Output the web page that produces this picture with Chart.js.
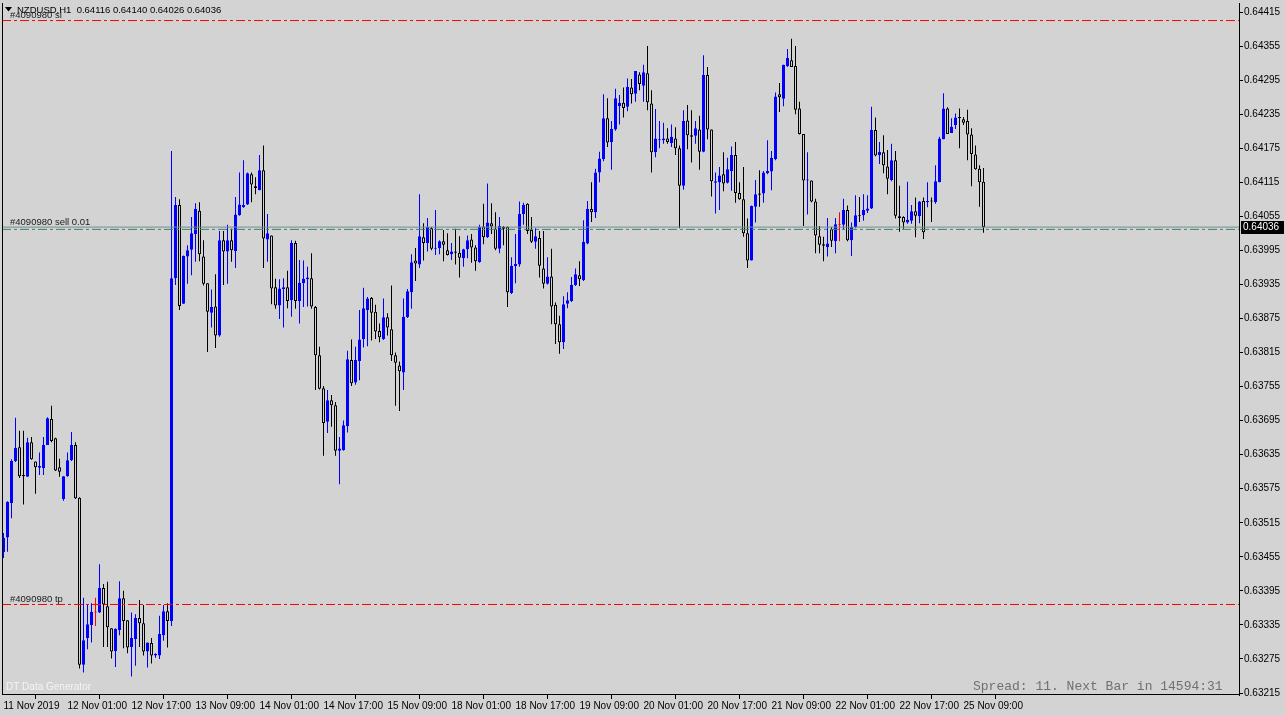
<!DOCTYPE html>
<html>
<head>
<meta charset="utf-8">
<title>NZDUSD,H1</title>
<script src="https://cdn.jsdelivr.net/npm/chart.js@4.4.1/dist/chart.umd.min.js"></script>
<style>
  html, body { margin: 0; padding: 0; background: #d3d3d3; overflow: hidden; }
  #chart { display: block; }
</style>
</head>
<body>
<canvas id="chart" width="1285" height="716"></canvas>
<script>
// NZDUSD H1 candles (one bar per hour)
const symbol = 'NZDUSD,H1';

const opens = [
  0.63463,0.63489,0.63550,0.63624,0.63648,0.63599,0.63596,0.63657,0.63623,0.63612,
  0.63611,0.63652,0.63698,0.63664,0.63613,0.63557,0.63597,0.63625,0.63652,0.63559,
  0.63265,0.63312,0.63335,0.63357,0.63357,0.63400,0.63368,0.63329,0.63289,0.63326,
  0.63382,0.63343,0.63296,0.63310,0.63347,0.63338,0.63288,0.63303,0.63281,0.63281,
  0.63317,0.63359,0.63342,0.63946,0.64075,0.63901,0.63984,0.63996,0.64024,0.64065,
  0.63984,0.63937,0.63885,0.63896,0.63845,0.64013,0.63993,0.64013,0.63994,0.64057,
  0.64071,0.64076,0.64129,0.64108,0.64101,0.64136,0.64014,0.64021,0.63930,0.63898,
  0.63927,0.63930,0.63907,0.64008,0.63906,0.63937,0.63944,0.63946,0.63895,0.63810,
  0.63752,0.63693,0.63731,0.63722,0.63642,0.63643,0.63685,0.63802,0.63762,0.63800,
  0.63839,0.63890,0.63911,0.63887,0.63853,0.63839,0.63877,0.63856,0.63810,0.63792,
  0.63780,0.63877,0.63921,0.63977,0.63970,0.64018,0.64008,0.64034,0.63998,0.63999,
  0.64011,0.63995,0.63988,0.63993,0.63991,0.63981,0.63997,0.64014,0.64000,0.63974,
  0.64037,0.64018,0.64043,0.64033,0.63998,0.64036,0.64036,0.63920,0.63967,0.63970,
  0.64059,0.64077,0.64031,0.64010,0.64017,0.63963,0.63936,0.63949,0.63899,0.63865,
  0.63833,0.63901,0.63906,0.63934,0.63951,0.63943,0.64007,0.64068,0.64062,0.64132,
  0.64156,0.64228,0.64186,0.64208,0.64249,0.64255,0.64248,0.64282,0.64271,0.64305,
  0.64285,0.64307,0.64254,0.64168,0.64189,0.64189,0.64192,0.64184,0.64192,0.64175,
  0.64109,0.64224,0.64198,0.64197,0.64208,0.64169,0.64304,0.64208,0.64114,0.64115,
  0.64129,0.64114,0.64135,0.64163,0.64096,0.64085,0.64025,0.63977,0.64072,0.64095,
  0.64095,0.64131,0.64134,0.64156,0.64270,0.64262,0.64320,0.64330,0.64320,0.64245,
  0.64200,0.64118,0.64118,0.64081,0.64020,0.64006,0.64001,0.64032,0.64011,0.64040,
  0.64040,0.64066,0.64013,0.64036,0.64057,0.64057,0.64065,0.64069,0.64207,0.64163,
  0.64168,0.64143,0.64119,0.64154,0.64055,0.64054,0.64044,0.64047,0.64064,0.64055,
  0.64082,0.64080,0.64083,0.64080,0.64115,0.64191,0.64245,0.64202,0.64216,0.64230,
  0.64226,0.64223,0.64199,0.64164,0.64139,0.64116
];
const highs = [
  0.63497,0.63553,0.63627,0.63700,0.63677,0.63677,0.63665,0.63666,0.63623,0.63639,
  0.63666,0.63701,0.63721,0.63665,0.63628,0.63597,0.63639,0.63675,0.63657,0.63560,
  0.63383,0.63370,0.63373,0.63383,0.63442,0.63407,0.63411,0.63329,0.63329,0.63412,
  0.63395,0.63343,0.63357,0.63354,0.63379,0.63370,0.63304,0.63312,0.63285,0.63351,
  0.63370,0.63373,0.64170,0.64089,0.64085,0.63986,0.64004,0.64054,0.64078,0.64080,
  0.64013,0.63937,0.63926,0.63953,0.64029,0.64029,0.64040,0.64033,0.64089,0.64132,
  0.64154,0.64132,0.64132,0.64124,0.64163,0.64180,0.64059,0.64021,0.63945,0.63944,
  0.63946,0.63959,0.64013,0.64012,0.63978,0.63977,0.63966,0.63990,0.63897,0.63825,
  0.63756,0.63749,0.63740,0.63728,0.63666,0.63695,0.63818,0.63838,0.63825,0.63890,
  0.63929,0.63913,0.63913,0.63899,0.63866,0.63910,0.63884,0.63933,0.63815,0.63799,
  0.63910,0.63927,0.63988,0.63999,0.64094,0.64043,0.64052,0.64036,0.64066,0.64013,
  0.64031,0.64025,0.64008,0.64033,0.64020,0.63998,0.64021,0.64024,0.64004,0.64040,
  0.64077,0.64113,0.64078,0.64062,0.64054,0.64038,0.64037,0.63983,0.64024,0.64081,
  0.64079,0.64078,0.64054,0.64034,0.64029,0.64029,0.63983,0.63998,0.63903,0.63880,
  0.63914,0.63921,0.63948,0.63963,0.63976,0.64048,0.64082,0.64115,0.64139,0.64169,
  0.64270,0.64263,0.64223,0.64280,0.64269,0.64282,0.64298,0.64297,0.64311,0.64309,
  0.64322,0.64355,0.64277,0.64244,0.64223,0.64220,0.64210,0.64217,0.64212,0.64180,
  0.64242,0.64251,0.64242,0.64223,0.64232,0.64339,0.64318,0.64208,0.64132,0.64142,
  0.64168,0.64158,0.64178,0.64186,0.64115,0.64142,0.64051,0.64074,0.64119,0.64136,
  0.64135,0.64189,0.64170,0.64273,0.64290,0.64322,0.64350,0.64368,0.64355,0.64257,
  0.64200,0.64168,0.64118,0.64086,0.64038,0.64019,0.64052,0.64036,0.64052,0.64062,
  0.64086,0.64074,0.64044,0.64092,0.64089,0.64094,0.64092,0.64248,0.64229,0.64186,
  0.64198,0.64172,0.64183,0.64170,0.64109,0.64055,0.64116,0.64075,0.64088,0.64082,
  0.64088,0.64115,0.64088,0.64145,0.64195,0.64272,0.64247,0.64228,0.64236,0.64245,
  0.64230,0.64243,0.64210,0.64180,0.64145,0.64140
];
const lows = [
  0.63453,0.63464,0.63523,0.63622,0.63594,0.63547,0.63596,0.63626,0.63566,0.63599,
  0.63599,0.63652,0.63657,0.63606,0.63596,0.63554,0.63596,0.63624,0.63557,0.63258,
  0.63251,0.63292,0.63304,0.63333,0.63356,0.63296,0.63296,0.63276,0.63261,0.63317,
  0.63294,0.63285,0.63244,0.63263,0.63296,0.63281,0.63260,0.63267,0.63277,0.63275,
  0.63307,0.63295,0.63333,0.63934,0.63890,0.63901,0.63936,0.63951,0.63975,0.63976,
  0.63933,0.63816,0.63859,0.63823,0.63843,0.63934,0.63936,0.63975,0.63964,0.64056,
  0.64070,0.64075,0.64080,0.64094,0.64101,0.63964,0.63975,0.63900,0.63892,0.63874,
  0.63859,0.63893,0.63878,0.63892,0.63866,0.63895,0.63896,0.63892,0.63749,0.63750,
  0.63633,0.63673,0.63684,0.63633,0.63583,0.63642,0.63674,0.63756,0.63758,0.63766,
  0.63824,0.63826,0.63836,0.63839,0.63833,0.63837,0.63845,0.63800,0.63721,0.63712,
  0.63749,0.63876,0.63892,0.63941,0.63964,0.63977,0.63993,0.63995,0.63987,0.63988,
  0.63976,0.63986,0.63978,0.63970,0.63947,0.63966,0.63981,0.63973,0.63959,0.63973,
  0.64006,0.64017,0.64024,0.63995,0.63990,0.64004,0.63895,0.63918,0.63937,0.63966,
  0.64040,0.64024,0.64008,0.63998,0.63947,0.63928,0.63935,0.63865,0.63830,0.63813,
  0.63821,0.63893,0.63904,0.63932,0.63932,0.63941,0.64006,0.64045,0.64052,0.64115,
  0.64152,0.64177,0.64137,0.64206,0.64217,0.64229,0.64240,0.64254,0.64257,0.64277,
  0.64257,0.64242,0.64132,0.64159,0.64175,0.64183,0.64183,0.64177,0.64163,0.64034,
  0.64102,0.64173,0.64150,0.64183,0.64137,0.64168,0.64191,0.64090,0.64060,0.64066,
  0.64099,0.64113,0.64100,0.64079,0.64084,0.64019,0.63964,0.63977,0.64044,0.64072,
  0.64079,0.64129,0.64101,0.64154,0.64239,0.64249,0.64318,0.64318,0.64235,0.64199,
  0.64038,0.64058,0.64080,0.63990,0.63990,0.63976,0.63984,0.64001,0.63990,0.64011,
  0.64032,0.64011,0.63985,0.64034,0.64045,0.64047,0.64061,0.64068,0.64161,0.64147,
  0.64131,0.64094,0.64117,0.64051,0.64028,0.64033,0.64042,0.64042,0.64018,0.64043,
  0.64015,0.64071,0.64045,0.64077,0.64115,0.64191,0.64200,0.64202,0.64209,0.64175,
  0.64216,0.64154,0.64108,0.64137,0.64072,0.64026
];
const closes = [
  0.63488,0.63552,0.63624,0.63647,0.63597,0.63597,0.63657,0.63627,0.63613,0.63615,
  0.63652,0.63699,0.63659,0.63607,0.63605,0.63597,0.63625,0.63652,0.63558,0.63265,
  0.63308,0.63336,0.63358,0.63357,0.63400,0.63371,0.63331,0.63288,0.63328,0.63382,
  0.63342,0.63295,0.63312,0.63347,0.63338,0.63288,0.63304,0.63281,0.63284,0.63319,
  0.63359,0.63342,0.63946,0.64075,0.63897,0.63985,0.63995,0.64025,0.64068,0.63988,
  0.63936,0.63887,0.63895,0.63845,0.64013,0.63993,0.64013,0.63995,0.64058,0.64076,
  0.64075,0.64131,0.64111,0.64105,0.64136,0.64016,0.64025,0.63928,0.63898,0.63928,
  0.63930,0.63906,0.64008,0.63906,0.63938,0.63945,0.63947,0.63896,0.63810,0.63751,
  0.63691,0.63731,0.63722,0.63642,0.63646,0.63687,0.63803,0.63761,0.63802,0.63838,
  0.63893,0.63910,0.63885,0.63852,0.63842,0.63877,0.63859,0.63810,0.63797,0.63782,
  0.63878,0.63923,0.63974,0.63972,0.64020,0.64008,0.64036,0.63998,0.63999,0.64011,
  0.64005,0.63987,0.63993,0.63991,0.63982,0.63997,0.64013,0.64000,0.63976,0.64036,
  0.64018,0.64044,0.64037,0.63998,0.64038,0.64033,0.63921,0.63968,0.63971,0.64059,
  0.64075,0.64029,0.64010,0.64020,0.63968,0.63936,0.63949,0.63896,0.63865,0.63833,
  0.63900,0.63907,0.63934,0.63953,0.63944,0.64010,0.64068,0.64062,0.64132,0.64157,
  0.64228,0.64185,0.64209,0.64263,0.64255,0.64246,0.64283,0.64270,0.64311,0.64288,
  0.64309,0.64256,0.64168,0.64192,0.64191,0.64192,0.64186,0.64195,0.64175,0.64109,
  0.64223,0.64198,0.64195,0.64210,0.64169,0.64304,0.64208,0.64117,0.64117,0.64127,
  0.64113,0.64138,0.64163,0.64096,0.64085,0.64025,0.63977,0.64073,0.64094,0.64093,
  0.64132,0.64135,0.64158,0.64266,0.64265,0.64322,0.64334,0.64318,0.64243,0.64200,
  0.64118,0.64120,0.64081,0.64021,0.64005,0.64003,0.64007,0.64012,0.64041,0.64040,
  0.64066,0.64013,0.64036,0.64057,0.64055,0.64066,0.64069,0.64207,0.64162,0.64169,
  0.64145,0.64121,0.64154,0.64056,0.64052,0.64044,0.64049,0.64064,0.64056,0.64081,
  0.64027,0.64082,0.64081,0.64117,0.64192,0.64245,0.64200,0.64213,0.64229,0.64228,
  0.64220,0.64199,0.64165,0.64138,0.64115,0.64036
];

// time axis: one label every 16 bars
const timeLabels = [
  '11 Nov 2019', '12 Nov 01:00', '12 Nov 17:00', '13 Nov 09:00', '14 Nov 01:00',
  '14 Nov 17:00', '15 Nov 09:00', '18 Nov 01:00', '18 Nov 17:00', '19 Nov 09:00',
  '20 Nov 01:00', '20 Nov 17:00', '21 Nov 09:00', '22 Nov 01:00', '22 Nov 17:00',
  '25 Nov 09:00'
];
const barsPerLabel = 16;

const priceTicks = [
  0.64415, 0.64355, 0.64295, 0.64235, 0.64175, 0.64115, 0.64055, 0.63995, 0.63935,
  0.63875, 0.63815, 0.63755, 0.63695, 0.63635, 0.63575, 0.63515, 0.63455, 0.63395,
  0.63335, 0.63275, 0.63215
];

// order #4090980 (sell 0.01) levels
const orderTag = '#4090980';
const slPrice = 0.64400;
const entryPrice = 0.64032;
const tpPrice = 0.63371;

const spreadText = 'Spread: 11. Next Bar in 14594:31';
const watermark = 'DT Data Generator';

// visible window of the terminal
const X_MIN = -0.375, X_MAX = 309.125;
const Y_MIN = 0.632115, Y_MAX = 0.644309;

const BG = '#d3d3d3';
const BULL = '#0000ff';
const BEAR = '#000000';
const DOJI = '#ff0000';
const FONT = '"Liberation Sans", Arial, sans-serif';

function candleColor(i) {
  if (closes[i] > opens[i]) return BULL;
  if (closes[i] < opens[i]) return BEAR;
  return DOJI;
}

function levelLine(price, color, dash) {
  return {
    type: 'line',
    order: 0,
    data: [{ x: X_MIN, y: price }, { x: X_MAX, y: price }],
    borderColor: color,
    borderWidth: 1,
    borderDash: dash,
    pointRadius: 0,
    fill: false
  };
}

const overlay = {
  id: 'overlay',
  beforeDraw(chart) {
    const ctx = chart.ctx;
    ctx.save();
    ctx.fillStyle = BG;
    ctx.fillRect(0, 0, chart.width, chart.height);
    ctx.restore();
  },
  afterDraw(chart) {
    const { ctx, chartArea: a } = chart;
    const y = chart.scales.y;
    const last = closes.length - 1;
    ctx.save();

    // frame
    ctx.fillStyle = '#000';
    ctx.fillRect(a.left, a.top, 1, a.bottom - a.top);
    ctx.fillRect(a.right - 1, a.top, 1, a.bottom - a.top + 1);
    ctx.fillRect(a.left, a.bottom - 1, a.right - a.left, 1);

    // header
    ctx.beginPath();
    ctx.moveTo(5, 7); ctx.lineTo(12, 7); ctx.lineTo(8.5, 11.5); ctx.closePath();
    ctx.fill();
    ctx.font = '9.5px ' + FONT;
    ctx.textBaseline = 'middle';
    ctx.textAlign = 'left';
    const ohlc = [opens[last], highs[last], lows[last], closes[last]].map(v => v.toFixed(5)).join(' ');
    ctx.fillText(symbol + '  ' + ohlc, 17, 10);

    // order labels
    ctx.fillStyle = '#1a1a1a';
    ctx.textBaseline = 'alphabetic';
    ctx.fillText(orderTag + ' sl', 10, y.getPixelForValue(slPrice) - 3);
    ctx.fillText(orderTag + ' sell 0.01', 10, y.getPixelForValue(entryPrice) - 4);
    ctx.fillText(orderTag + ' tp', 10, y.getPixelForValue(tpPrice) - 2);

    // watermark + spread info
    ctx.textBaseline = 'middle';
    ctx.fillStyle = '#f4f4f4';
    ctx.font = '10px ' + FONT;
    ctx.fillText(watermark, 6, 687);
    ctx.fillStyle = '#707070';
    ctx.font = '13px "Liberation Mono", "DejaVu Sans Mono", monospace';
    ctx.fillText(spreadText, 973, 687);

    // current bid box on the price axis
    const by = Math.round(y.getPixelForValue(closes[last]));
    ctx.fillStyle = '#000';
    ctx.fillRect(a.right + 1, by - 6, 43, 13);
    ctx.fillStyle = '#fff';
    ctx.font = '10px ' + FONT;
    ctx.fillText(closes[last].toFixed(5), a.right + 3, by + 0.5);
    ctx.restore();
  }
};

function drawChart() {
  const idx = opens.map((_, i) => i);
  const ctx = document.getElementById('chart');

  new Chart(ctx, {
    type: 'bar',
    data: {
      datasets: [
        {
          label: 'bodies',
          order: 1,
          data: idx.map(i => ({ x: i, y: [opens[i], closes[i]] })),
          backgroundColor: idx.map(i => (closes[i] < opens[i] ? BG : candleColor(i))),
          borderColor: idx.map(candleColor),
          borderWidth: 1,
          borderSkipped: false,
          barThickness: 3,
          minBarLength: 1,
          grouped: false,
          inflateAmount: 0
        },
        {
          label: 'wicks',
          order: 2,
          data: idx.map(i => ({ x: i, y: [lows[i], highs[i]] })),
          backgroundColor: idx.map(candleColor),
          borderWidth: 0,
          barThickness: 1,
          grouped: false,
          inflateAmount: 0
        },
        levelLine(slPrice, '#ff0000', [9, 3, 3, 3]),
        levelLine(tpPrice, '#ff0000', [9, 3, 3, 3]),
        levelLine(entryPrice, '#2e8b57', [9, 3, 3, 3]),
        levelLine(closes[closes.length - 1], '#778899', [])
      ]
    },
    options: {
      responsive: false,
      animation: false,
      devicePixelRatio: 1,
      layout: { padding: { left: 2, top: 3, right: 0, bottom: 0 } },
      plugins: { legend: { display: false }, tooltip: { enabled: false } },
      scales: {
        x: {
          type: 'linear',
          position: 'bottom',
          min: X_MIN,
          max: X_MAX,
          offset: false,
          afterBuildTicks: s => { s.ticks = timeLabels.map((_, i) => ({ value: i * barsPerLabel })); },
          afterFit: s => { s.height = 21; s.paddingLeft = 0; s.paddingRight = 0; },
          ticks: {
            callback: (v, i) => timeLabels[i],
            align: 'start',
            maxRotation: 0,
            autoSkip: false,
            color: '#000',
            padding: 1,
            font: { family: FONT, size: 10 }
          },
          grid: { drawOnChartArea: false, drawTicks: true, tickLength: 4, color: '#000' },
          border: { display: false }
        },
        y: {
          type: 'linear',
          position: 'right',
          min: Y_MIN,
          max: Y_MAX,
          afterBuildTicks: s => { s.ticks = priceTicks.map(v => ({ value: v })); },
          afterFit: s => { s.width = 45; s.paddingTop = 0; s.paddingBottom = 0; },
          ticks: {
            callback: v => v.toFixed(5),
            color: '#000',
            padding: 1,
            font: { family: FONT, size: 10 }
          },
          grid: { drawOnChartArea: false, drawTicks: true, tickLength: 3, color: '#000' },
          border: { display: false }
        }
      }
    },
    plugins: [overlay]
  });
}

drawChart();
</script>
</body>
</html>
